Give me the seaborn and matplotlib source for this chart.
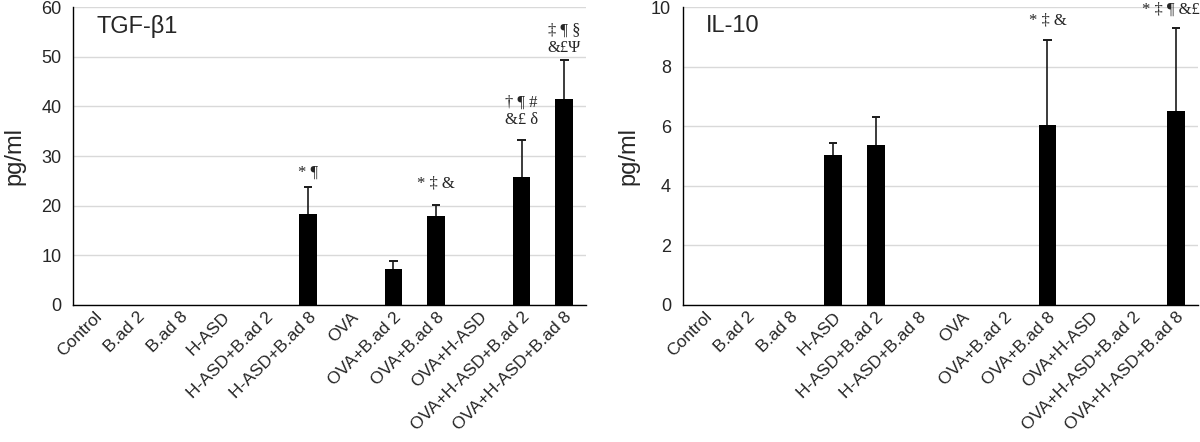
import matplotlib
matplotlib.use('Agg')
import matplotlib.pyplot as plt
import numpy as np
import pandas as pd
import seaborn as sns
from matplotlib.ticker import FixedLocator, MultipleLocator

sns.set_style("white")
plt.rcParams['font.family'] = ['Liberation Sans', 'DejaVu Sans']

groups = ["Control", "B.ad 2", "B.ad 8", "H-ASD", "H-ASD+B.ad 2", "H-ASD+B.ad 8",
          "OVA", "OVA+B.ad 2", "OVA+B.ad 8", "OVA+H-ASD", "OVA+H-ASD+B.ad 2",
          "OVA+H-ASD+B.ad 8"]

# TGF-beta1 means and SD (upper only)
tgf_mean = [0, 0, 0, 0, 0, 18.3, 0, 7.3, 18.0, 0, 25.7, 41.5]
tgf_err = [0, 0, 0, 0, 0, 5.5, 0, 1.5, 2.2, 0, 7.6, 7.8]
tgf_marks = {5: ("* ¶", 26.6, 0), 8: ("* ‡ &", 24.5, 0),
             10: ("† ¶ #\n&£ δ", 39.0, 0), 11: ("‡ ¶ §\n&£Ψ", 53.5, 0)}

# IL-10
il_mean = [0, 0, 0, 5.05, 5.38, 0, 0, 0, 6.05, 0, 0, 6.52]
il_err = [0, 0, 0, 0.40, 0.92, 0, 0, 0, 2.83, 0, 0, 2.78]
il_marks = {8: ("* ‡ &", 9.56, 0), 11: ("* ‡ ¶ &£", 9.9, -0.12)}


def panel(ax, mean, err, marks, title, ymax, ystep, lpad):
	df = pd.DataFrame({"group": groups, "value": mean})
	sns.barplot(data=df, x="group", y="value", order=groups, color="black",
	            width=0.41, errorbar=None, ax=ax, zorder=3, linewidth=0)
	# upper-only error bars where there is an SD
	x = np.arange(len(groups))
	m = np.array(mean)
	e = np.array(err)
	k = e > 0
	ax.vlines(x[k], m[k], m[k] + e[k], color='#1a1a1a', lw=1.2, zorder=4)
	ax.hlines(m[k] + e[k], x[k] - 0.1, x[k] + 0.1, color='#1a1a1a', lw=1.4, zorder=4)
	for i, (txt, yy, dx) in marks.items():
		ax.text(i + dx, yy, txt, ha='center', va='center', fontsize=12,
		        family=['Liberation Serif', 'DejaVu Serif'], linespacing=1.1)
	ax.set_xlim(-0.5, len(groups) - 0.5)
	ax.set_ylim(0, ymax)
	ax.yaxis.set_major_locator(MultipleLocator(ystep))
	ax.yaxis.grid(True, color='#d9d9d9', lw=1)
	ax.set_axisbelow(True)
	ax.xaxis.set_minor_locator(FixedLocator(np.arange(len(groups) + 1) - 0.5))
	ax.tick_params(axis='x', which='major', length=0, pad=3)
	ax.tick_params(axis='x', which='minor', length=5, width=1, color='black', direction='out')
	ax.tick_params(axis='y', length=5, width=1, color='black', direction='out', labelsize=13)
	ax.set_xticks(x)
	ax.set_xticklabels(groups, rotation=45, ha='right', rotation_mode='anchor', fontsize=12.5)
	for s in ['top', 'right']:
		ax.spines[s].set_visible(False)
	for s in ['left', 'bottom']:
		ax.spines[s].set_color('black')
		ax.spines[s].set_linewidth(1)
	ax.set_xlabel('')
	ax.set_ylabel('pg/ml', fontsize=17, labelpad=lpad)
	ax.text(0.045, 0.975, title, transform=ax.transAxes, fontsize=17, ha='left', va='top')


fig = plt.figure(figsize=(12, 4.42), dpi=100)
ax1 = fig.add_axes([0.061, 0.31, 0.427, 0.674])
ax2 = fig.add_axes([0.569, 0.31, 0.429, 0.674])
panel(ax1, tgf_mean, tgf_err, tgf_marks, "TGF-β1", 60, 10, 11)
panel(ax2, il_mean, il_err, il_marks, "IL-10", 10, 2, 8)
fig.savefig("out.png", dpi=100)
